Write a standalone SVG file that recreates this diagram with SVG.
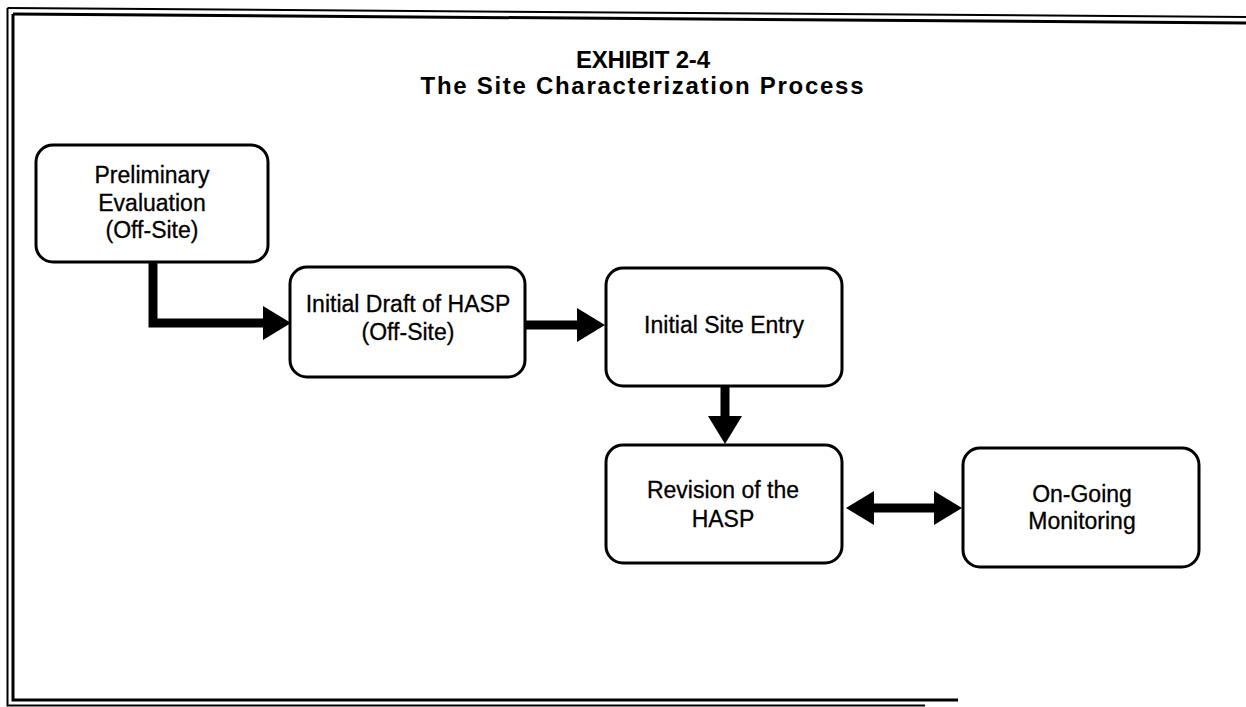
<svg xmlns="http://www.w3.org/2000/svg" width="1246" height="707" viewBox="0 0 1246 707">
<style>
.node rect{fill:#fff;stroke:#000;stroke-width:3}
.node text{font-family:"Liberation Sans",Arial,sans-serif;font-size:23px;fill:#000;stroke:#000;stroke-width:0.3;text-anchor:middle}
.title{font-family:"Liberation Sans",Arial,sans-serif;font-weight:bold;font-size:24px;fill:#000;text-anchor:middle}
.conn{fill:none;stroke:#000;stroke-width:9}
.frame{fill:none;stroke:#000}
</style>
<defs>
<marker id="ah" markerUnits="userSpaceOnUse" markerWidth="28" markerHeight="36" refX="0" refY="17" orient="auto-start-reverse" viewBox="0 0 28 34">
<path d="M0,0 L28,17 L0,34 z" fill="#000"/>
</marker>
</defs>
<rect width="1246" height="707" fill="#fff"/>
<g id="frame">
<path class="frame" stroke-width="2" d="M7.5,8 L1246,17"/>
<path class="frame" stroke-width="3" d="M13,14 L1246,23"/>
<path class="frame" stroke-width="2" d="M7.5,8 V705.5 H925"/>
<path class="frame" stroke-width="3" d="M13,14 V700 H958"/>
</g>
<g id="title">
<text class="title" x="643" y="68" textLength="134" lengthAdjust="spacing">EXHIBIT 2-4</text>
<text class="title" x="642" y="94" textLength="443" lengthAdjust="spacing">The Site Characterization Process</text>
</g>
<g id="connectors">
<path class="conn" d="M153,262 V323 H263" marker-end="url(#ah)"/>
<path class="conn" d="M525,325 H577" marker-end="url(#ah)"/>
<path class="conn" d="M725,386 V416" marker-end="url(#ah)"/>
<path class="conn" stroke-width="8" d="M874,508 H934" marker-start="url(#ah)" marker-end="url(#ah)"/>
</g>
<g id="node-preliminary" class="node">
<rect x="36" y="145" width="232" height="117" rx="17"/>
<text x="152" y="183">Preliminary</text>
<text x="152" y="211">Evaluation</text>
<text x="152" y="238">(Off-Site)</text>
</g>
<g id="node-draft" class="node">
<rect x="290" y="267" width="235" height="110" rx="17"/>
<text x="408" y="312">Initial Draft of HASP</text>
<text x="408" y="340">(Off-Site)</text>
</g>
<g id="node-entry" class="node">
<rect x="606" y="268" width="236" height="118" rx="17"/>
<text x="724" y="333">Initial Site Entry</text>
</g>
<g id="node-revision" class="node">
<rect x="606" y="445" width="236" height="118" rx="17"/>
<text x="723" y="498">Revision of the</text>
<text x="723" y="527">HASP</text>
</g>
<g id="node-monitoring" class="node">
<rect x="963" y="448" width="236" height="119" rx="17"/>
<text x="1082" y="502">On-Going</text>
<text x="1082" y="529">Monitoring</text>
</g>
</svg>
